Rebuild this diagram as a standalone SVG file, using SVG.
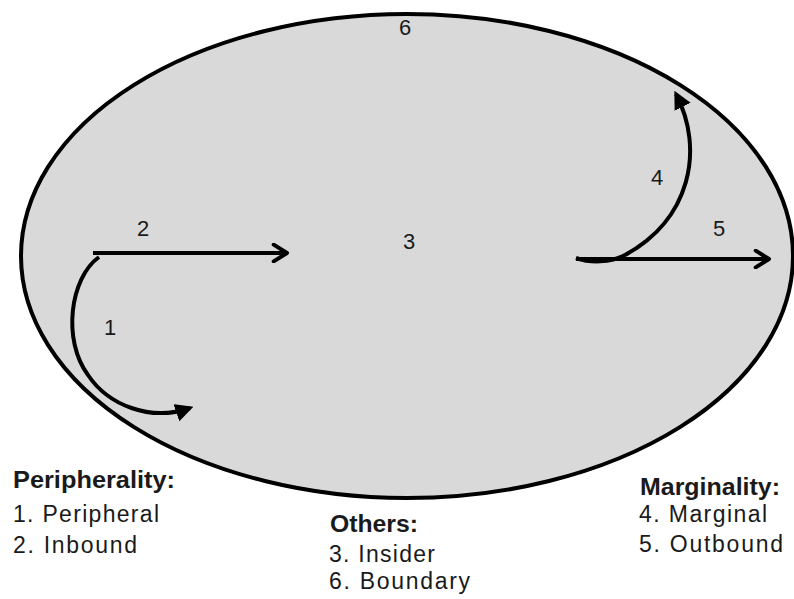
<svg xmlns="http://www.w3.org/2000/svg" width="794" height="599" viewBox="0 0 794 599">
<style>
text{font-family:"Liberation Sans",Arial,sans-serif;fill:#1a1a1a}
.n{font-size:22px;text-anchor:middle}
.h{font-size:23px;font-weight:bold}
.l{font-size:23px}
.c{fill:none;stroke:#000;stroke-width:4}
</style>
<defs>
<marker id="open" viewBox="0 0 12 12" refX="10" refY="6" markerWidth="5" markerHeight="5" orient="auto" markerUnits="strokeWidth">
<path d="M2,1 L10,6 L2,11" fill="none" stroke="#000" stroke-width="2.4" stroke-linecap="round" stroke-linejoin="round"/>
</marker>
<marker id="tri" viewBox="0 0 10 10" refX="8" refY="5" markerWidth="4.5" markerHeight="4.5" orient="auto" markerUnits="strokeWidth">
<path d="M0,0 L10,5 L0,10 z" fill="#000"/>
</marker>
</defs>
<g id="boundary">
<ellipse cx="407" cy="256" rx="386" ry="242" fill="#d9d9d9" stroke="#000" stroke-width="4"/>
</g>
<g id="connectors">
<path class="c" d="M93,253 L287,253" marker-end="url(#open)"/>
<path class="c" d="M99,257 C70,278 62,340 88,375 C108,405 150,422 190,408" marker-end="url(#tri)"/>
<path class="c" d="M576,259 L769,259" marker-end="url(#open)"/>
<path class="c" d="M576,258 C590,263 610,263 625,255 C690,220 705,150 676,94" marker-end="url(#tri)"/>
</g>
<g id="labels">
<text class="n" x="143" y="236">2</text>
<text class="n" x="110" y="335">1</text>
<text class="n" x="409" y="249">3</text>
<text class="n" x="657" y="185">4</text>
<text class="n" x="719" y="236">5</text>
<text class="n" x="405" y="35">6</text>
</g>
<g id="legend-peripherality">
<text class="h" x="13" y="488" textLength="162" lengthAdjust="spacingAndGlyphs">Peripherality:</text>
<text class="l" x="13" y="522" textLength="146" lengthAdjust="spacing">1. Peripheral</text>
<text class="l" x="13" y="553" textLength="124" lengthAdjust="spacing">2. Inbound</text>
</g>
<g id="legend-others">
<text class="h" x="330" y="532" textLength="88" lengthAdjust="spacingAndGlyphs">Others:</text>
<text class="l" x="329" y="562" textLength="106" lengthAdjust="spacing">3. Insider</text>
<text class="l" x="329" y="589" textLength="141" lengthAdjust="spacing">6. Boundary</text>
</g>
<g id="legend-marginality">
<text class="h" x="640" y="495" textLength="140" lengthAdjust="spacingAndGlyphs">Marginality:</text>
<text class="l" x="639" y="522" textLength="128" lengthAdjust="spacing">4. Marginal</text>
<text class="l" x="639" y="552" textLength="144" lengthAdjust="spacing">5. Outbound</text>
</g>
</svg>
